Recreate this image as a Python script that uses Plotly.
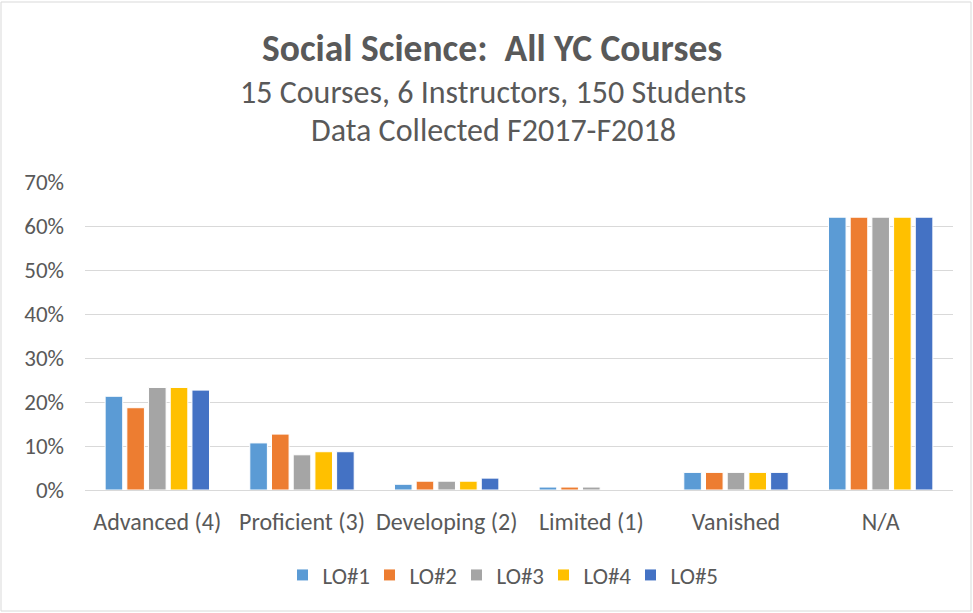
import plotly.graph_objects as go

categories = ["Advanced (4)", "Proficient (3)", "Developing (2)", "Limited (1)", "Vanished", "N/A"]
series_names = ["LO#1", "LO#2", "LO#3", "LO#4", "LO#5"]
lo1 = [21.3, 10.7, 1.3, 0.67, 4.0, 62.0]
lo2 = [18.7, 12.7, 2.0, 0.67, 4.0, 62.0]
lo3 = [23.3, 8.0, 2.0, 0.67, 4.0, 62.0]
lo4 = [23.3, 8.7, 2.0, 0.0, 4.0, 62.0]
lo5 = [22.7, 8.7, 2.7, 0.0, 4.0, 62.0]
series_values = [lo1, lo2, lo3, lo4, lo5]
colors = ["#5B9BD5", "#ED7D31", "#A5A5A5", "#FFC000", "#4472C4"]

title_text = "Social Science:  All YC Courses"
subtitle1 = "15 Courses, 6 Instructors, 150 Students"
subtitle2 = "Data Collected F2017-F2018"

FONT = "Carlito, Calibri, Lato, sans-serif"
GREY = "#595959"

fig = go.Figure()
for name, vals, c in zip(series_names, series_values, colors):
    fig.add_trace(go.Bar(
        x=categories, y=[v / 100 for v in vals], name=name,
        marker=dict(color=c, line=dict(color="white", width=1)),
    ))

W, H = 973, 613
L, R, T, B = 85, 20, 182, 123
ph = H - T - B
pw = W - L - R

def py(px):
    return (H - B - px) / ph

def px_(x):
    return (x - L) / pw

fig.update_layout(
    width=W, height=H,
    margin=dict(l=L, r=R, t=T, b=B),
    paper_bgcolor="white", plot_bgcolor="white",
    barmode="group", bargap=0.25, bargroupgap=0.19,
    font=dict(family=FONT, color=GREY, size=23),
    showlegend=True,
    legend=dict(orientation="h", x=px_(500), xanchor="center", y=py(575), yanchor="middle",
                font=dict(size=23, color=GREY), entrywidth=42, entrywidthmode="pixels",
                traceorder="normal"),
    xaxis=dict(showgrid=False, showline=True, linecolor="#D9D9D9", linewidth=1,
               ticks="", tickfont=dict(size=24, color=GREY), ticklabelstandoff=10),
    yaxis=dict(range=[0, 0.7], dtick=0.1, tickformat=".0%", showgrid=True,
               gridcolor="#D9D9D9", gridwidth=1, zeroline=False, showline=False,
               ticks="", tickfont=dict(size=23, color=GREY), ticklabelstandoff=20),
    annotations=[
        dict(text="<b>" + title_text + "</b>", x=(492 - L) / pw,
             y=py(48), xref="paper", yref="paper", showarrow=False,
             font=dict(size=37.5, color=GREY, family=FONT), xanchor="center", yanchor="middle"),
        dict(text=subtitle1, x=(493 - L) / pw, y=py(92), xref="paper", yref="paper", showarrow=False,
             font=dict(size=32, color=GREY, family=FONT), xanchor="center", yanchor="middle"),
        dict(text=subtitle2, x=(493 - L) / pw, y=py(130), xref="paper", yref="paper", showarrow=False,
             font=dict(size=32, color=GREY, family=FONT), xanchor="center", yanchor="middle"),
    ],
    shapes=[dict(type="rect", xref="paper", yref="paper",
                 x0=px_(1), x1=px_(971), y0=py(611), y1=py(2),
                 line=dict(color="#D9D9D9", width=1), fillcolor="rgba(0,0,0,0)", layer="below")],
)

fig.write_html("out.html", config={"displayModeBar": False},
               post_script="document.body.style.margin='0';document.body.style.overflow='hidden';")
